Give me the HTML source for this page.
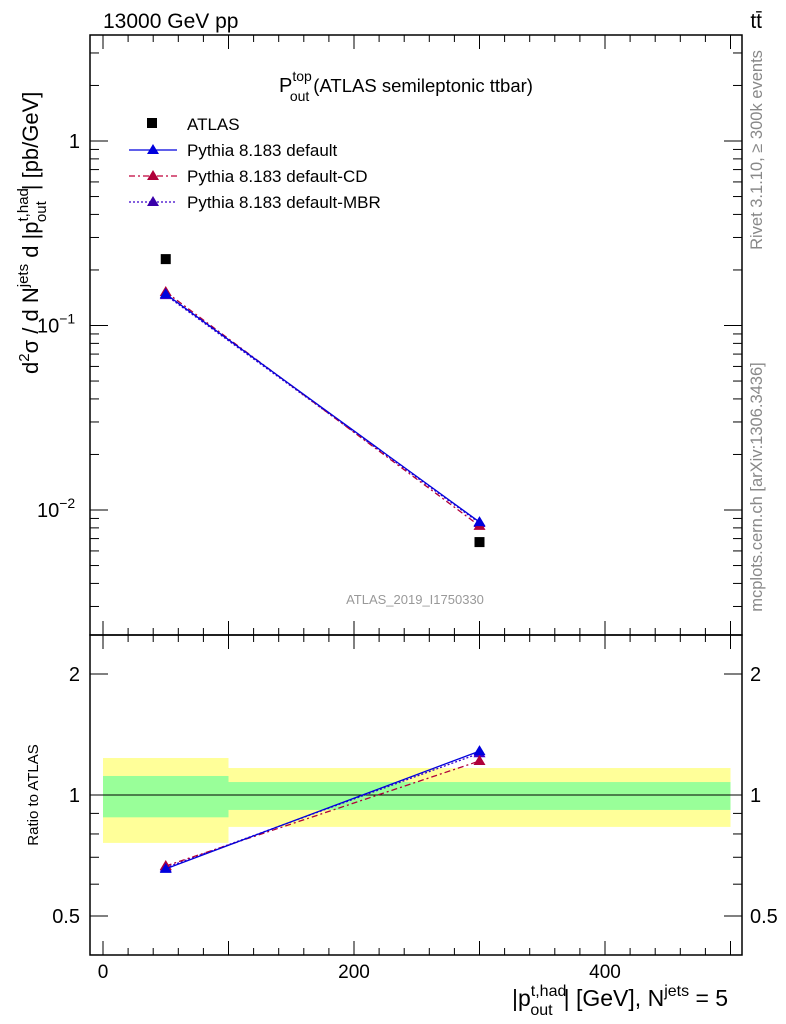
<!DOCTYPE html>
<html><head><meta charset="utf-8"><style>
body{margin:0;background:#fff;}
svg{display:block;font-family:"Liberation Sans",sans-serif;}
</style></head><body>
<svg id="chart" width="786" height="1024" xmlns="http://www.w3.org/2000/svg">
<text x="103" y="28" font-size="21">13000 GeV pp</text>
<text x="762" y="28" font-size="21" text-anchor="end">tt̄</text>
<text x="279" y="92" font-size="20">P<tspan font-size="14" dy="-11">top</tspan><tspan font-size="14" dx="-22" dy="20">out</tspan><tspan dx="4" font-size="18.5" dy="-9">(ATLAS semileptonic ttbar)</tspan></text>
<text x="415" y="604" font-size="13" fill="#999" text-anchor="middle">ATLAS_2019_I1750330</text>
<text transform="translate(762,150) rotate(-90)" font-size="16.5" fill="#888" text-anchor="middle">Rivet 3.1.10, ≥ 300k events</text>
<text transform="translate(762,487) rotate(-90)" font-size="16.5" fill="#888" text-anchor="middle">mcplots.cern.ch [arXiv:1306.3436]</text>
<text transform="translate(38,374) rotate(-90)" font-size="22">d<tspan font-size="15" dy="-9">2</tspan><tspan dy="9">σ / d N</tspan><tspan font-size="15" dy="-10">jets</tspan><tspan dy="10"> d |p</tspan><tspan font-size="15" dy="-10">t,had</tspan><tspan font-size="15" dx="-34" dy="18">out</tspan><tspan dx="11" dy="-8">| [pb/GeV]</tspan></text>
<text transform="translate(38,795) rotate(-90)" font-size="15" text-anchor="middle">Ratio to ATLAS</text>
<text x="512" y="1006" font-size="23">|p<tspan font-size="16" dy="-10">t,had</tspan><tspan font-size="16" dx="-36" dy="19">out</tspan><tspan dx="11" dy="-9">| [GeV], N</tspan><tspan font-size="16" dy="-10">jets</tspan><tspan dy="10"> = 5</tspan></text>
<g id="legend">
<rect x="147" y="118" width="10" height="10" fill="#000"/>
<text x="187" y="130" font-size="17">ATLAS</text>
<line x1="129" y1="150" x2="177" y2="150" stroke="#0000dd" stroke-width="1.3"/>
<path d="M153,144 L159,154 L147,154Z" fill="#0000dd"/>
<text x="187" y="156" font-size="17">Pythia 8.183 default</text>
<line x1="129" y1="176" x2="177" y2="176" stroke="#c0003a" stroke-width="1.3" stroke-dasharray="6,3,2,3"/>
<path d="M153,170 L159,180 L147,180Z" fill="#b0003a"/>
<text x="187" y="182" font-size="17">Pythia 8.183 default-CD</text>
<line x1="129" y1="202" x2="177" y2="202" stroke="#3a00cc" stroke-width="1.3" stroke-dasharray="2,2"/>
<path d="M153,196 L159,206 L147,206Z" fill="#3a00aa"/>
<text x="187" y="208" font-size="17">Pythia 8.183 default-MBR</text>
</g>
</svg>
<script>
const xCenters=[50,300];
const binEdges=[0,100,500];
const atlasVals=[0.229,0.0067];
const defaultVals=[0.148,0.0086];
const cdVals=[0.152,0.0082];
const mbrVals=[0.146,0.0085];
const defaultRatio=[0.655,1.286];
const cdRatio=[0.666,1.215];
const mbrRatio=[0.66,1.27];
const greenLo=[0.88,0.918], greenHi=[1.115,1.077];
const yellowLo=[0.76,0.833], yellowHi=[1.236,1.167];
const xTicks=[0,200,400];
const yTicks=[1,0.1,0.01];
const yTickLabels=[["1",""],["10","−1"],["10","−2"]];
const rTicks=[0.5,1,2];
const rTickLabels=["0.5","1","2"];

const NS="http://www.w3.org/2000/svg";
const svg=document.getElementById('chart');
const L=90,R=742,T=35,M=635,B=955;
const X=v=>103+v*(605-103)/400;
const Y=v=>141-Math.log10(v)*184.5;
const RY=v=>795-Math.log10(v)*402;
function mk(tag,attrs,parent){const e=document.createElementNS(NS,tag);for(const k in attrs)e.setAttribute(k,attrs[k]);(parent||svg).appendChild(e);return e;}

for(let i=0;i<2;i++){
 const y=mk('rect',{x:X(binEdges[i]),y:RY(yellowHi[i]),width:X(binEdges[i+1])-X(binEdges[i]),height:RY(yellowLo[i])-RY(yellowHi[i]),fill:'#ffff99'});
 
 
 const g=mk('rect',{x:X(binEdges[i]),y:RY(greenHi[i]),width:X(binEdges[i+1])-X(binEdges[i]),height:RY(greenLo[i])-RY(greenHi[i]),fill:'#99ff99'});
 
 
}
mk('line',{x1:L,x2:R,y1:RY(1),y2:RY(1),stroke:'#000','stroke-width':1});

const f1=mk('rect',{x:L,y:T,width:R-L,height:M-T,fill:'none',stroke:'#000','stroke-width':1.5});


const f2=mk('rect',{x:L,y:M,width:R-L,height:B-M,fill:'none',stroke:'#000','stroke-width':1.5});



for(let v=-20;v<=540;v+=20){const x=X(v);if(x<L||x>R)continue;const big=v%100===0;const h=big?14:7;
 for(const [y0,dir] of [[T,1],[M,-1],[M,1],[B,-1]]) mk('line',{x1:x,x2:x,y1:y0,y2:y0+dir*h,stroke:'#000'});}
xTicks.forEach(v=>{const t=mk('text',{x:X(v),y:978,'font-size':19,'text-anchor':'middle'});t.textContent=v;
 
 });

for(let d=-3;d<=0;d++)for(let m=1;m<=9;m++){const v=m*Math.pow(10,d);const y=Y(v);if(y<T||y>M)continue;const h=m===1?18:9;
 mk('line',{x1:L,x2:L+h,y1:y,y2:y,stroke:'#000'});mk('line',{x1:R,x2:R-h,y1:y,y2:y,stroke:'#000'});}
yTicks.forEach((v,i)=>{let t;
 if(yTickLabels[i][1]){t=mk('text',{x:37,y:Y(v)+7,'font-size':20});t.textContent=yTickLabels[i][0];
  const s=mk('tspan',{'font-size':14,dy:-9},t);s.textContent=yTickLabels[i][1];}
 else{t=mk('text',{x:80,y:Y(v)+7,'font-size':20,'text-anchor':'end'});t.textContent=yTickLabels[i][0];}
 
 });

[0.4,0.5,0.6,0.7,0.8,0.9,1,2].forEach(v=>{const y=RY(v);const h=[0.5,1,2].includes(v)?18:9;
 mk('line',{x1:L,x2:L+h,y1:y,y2:y,stroke:'#000'});mk('line',{x1:R,x2:R-h,y1:y,y2:y,stroke:'#000'});});
rTicks.forEach((v,i)=>{for(const [x,a] of [[80,'end'],[750,'start']]){const t=mk('text',{x:x,y:RY(v)+7,'font-size':20,'text-anchor':a});t.textContent=rTickLabels[i];
 
 }});

function series(vals,yf,color,dash,name){
 const pts=xCenters.map((x,i)=>X(x)+','+yf(vals[i])).join(' ');
 const pl=mk('polyline',{points:pts,fill:'none',stroke:color,'stroke-width':1.3});
 if(dash)pl.setAttribute('stroke-dasharray',dash);
 
 
 xCenters.forEach((x,i)=>{const cx=X(x),cy=yf(vals[i]);
  const p=mk('path',{d:`M${cx},${cy-6} L${cx+6},${cy+4} L${cx-6},${cy+4}Z`,fill:color});
  
  });
}
series(mbrVals,Y,'#3a00cc','2,2','mbr');
series(cdVals,Y,'#b0003a','6,3,2,3','cd');
series(defaultVals,Y,'#0000dd',null,'default');
xCenters.forEach((x,i)=>{const r=mk('rect',{x:X(x)-5,y:Y(atlasVals[i])-5,width:10,height:10,fill:'#000'});
 
 });
series(mbrRatio,RY,'#3a00cc','2,2','mbr-ratio');
series(cdRatio,RY,'#b0003a','6,3,2,3','cd-ratio');
series(defaultRatio,RY,'#0000dd',null,'default-ratio');
</script>
</body></html>
